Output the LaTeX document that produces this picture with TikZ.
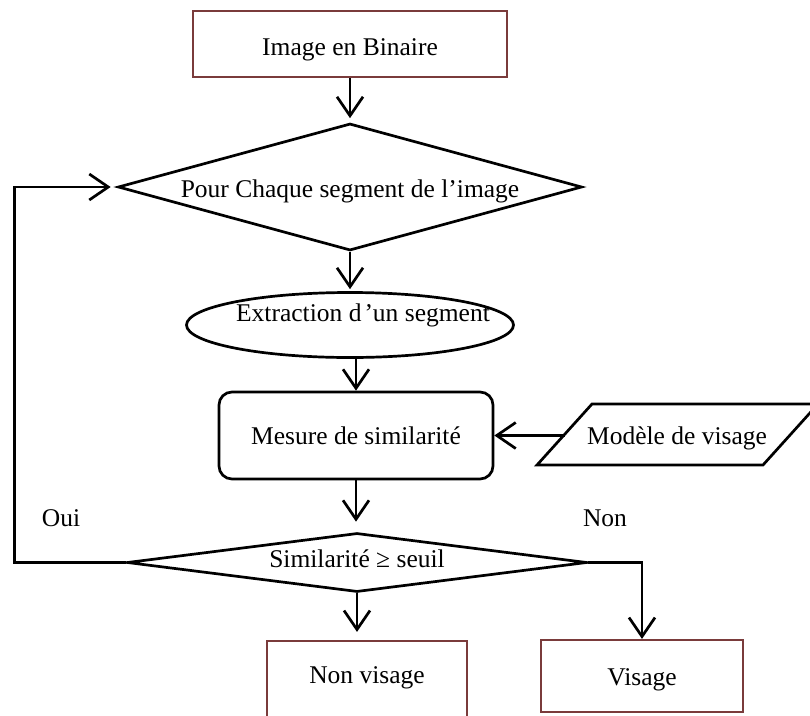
\documentclass[tikz,border=0pt]{standalone}
\usepackage{fontspec}
\setmainfont{Liberation Serif}
\usetikzlibrary{shapes.geometric,arrows.meta}
\definecolor{boxred}{HTML}{7A3B3B}
\begin{document}
\begin{tikzpicture}[x=1pt,y=-1pt,
  line width=2.7pt,
  txt/.style={font=\fontsize{25.5}{30}\selectfont, inner sep=0pt},
  txtdrop/.style={text height=#1, text depth=0pt},
  termbox/.style={txt, draw=boxred, line width=2.2pt},
  decision/.style={txt, diamond, draw},
  arr/.style={-{Straight Barb[length=19pt,width=26pt]}},
]
\useasboundingbox (0,0) rectangle (810,715);

% start and end boxes
\node[termbox, txtdrop=22pt, minimum width=314, minimum height=66] (bin) at (350,44) {Image en Binaire};
\node[termbox, minimum width=200, minimum height=130] (nonv) at (367,706) {};
\node[txt] (nonvtxt) at (367,677.5) {Non visage};
\node[termbox, txtdrop=18pt, minimum width=202, minimum height=72] (vis) at (642,676) {Visage};

% loop over segments
\node[decision, txtdrop=20pt, minimum width=464, minimum height=127, shape aspect=3.65] (each) at (350,187) {Pour Chaque segment de l’image};

% extraction
\node[ellipse, draw, minimum width=327, minimum height=65, inner sep=0pt] (extr) at (350,325) {};
\node[txt] (extrtxt) at (363,315) {Extraction d\kern3pt’un segment};

% similarity measure
\node[txt, draw, rounded corners=13pt, minimum width=274, minimum height=87] (mes) at (356,435.5) {Mesure de similarité};

% face model (data)
\draw (537,465) -- (592,404) -- (818,404) -- (763,465) -- cycle;
\node[txt] (model) at (677,438) {Modèle de visage};
\coordinate (modelin) at (564.5,435.5);

% threshold test
\node[decision, text height=18pt, text depth=9pt, minimum width=460, minimum height=59, shape aspect=7.8] (sim) at (357,562.5) {Similarité ≥ seuil};

\node[txt] (oui) at (61,518) {Oui};
\node[txt] (non) at (605,518) {Non};

% connectors
\draw[arr, shorten >=4pt] (bin) -- (each);
\draw[arr, shorten >=2pt] (each.south) -- (extr.north);
\draw[arr] (mes.north |- extr.south) -- (mes.north);
\draw[arr] (modelin) -- (mes.east);
\draw[arr, shorten >=10pt] (mes.south) -- (mes.south |- sim.north);
\draw[arr, shorten >=8pt] (sim.south) -- (sim.south |- nonv.north);
\draw[arr] (sim.east) -| (vis.north);
\draw[arr, shorten >=6pt] (sim.west) -- ++(-111,0) |- (each.west);
\end{tikzpicture}
\end{document}
